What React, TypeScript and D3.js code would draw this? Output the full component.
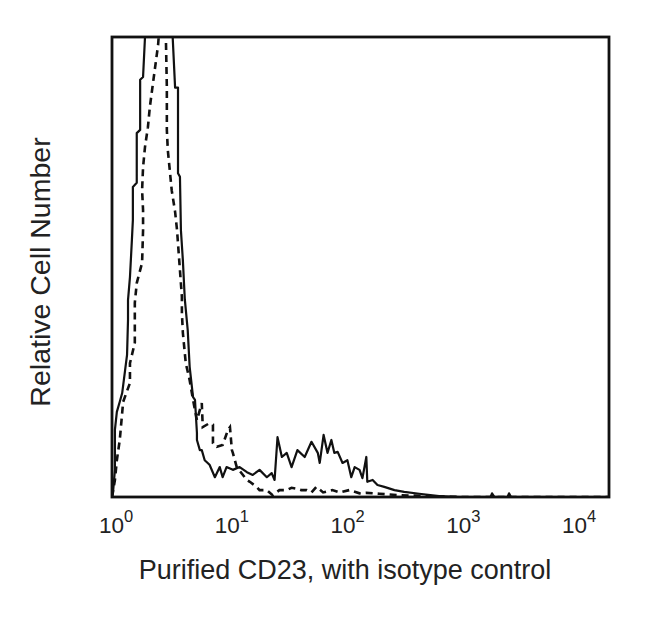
import React from "react";
import * as d3 from "d3";

// Histogram channels (log-amplified, CH_PER_DECADE channels per decade) and relative counts (% of frame height)
const CH_PER_DECADE = 238.5;
const CH_MAX = 1024;

const cd23Channels = [0, 2, 6, 6, 10, 16, 21, 27, 31, 33, 33, 37, 41, 43, 43, 51, 51, 58, 58, 64, 68, 76, 88, 100, 112, 120, 125, 130, 136, 136, 140, 142, 146, 150, 156, 160, 167, 171, 175, 175, 181, 185, 191, 201, 212, 222, 228, 236, 249, 263, 278, 290, 304, 319, 329, 335, 341, 350, 360, 370, 382, 397, 411, 424, 428, 436, 444, 452, 458, 465, 475, 485, 493, 500, 510, 516, 524, 526, 537, 547, 561, 582, 602, 633, 674, 715, 780, 783, 788, 815, 818, 822, 1024];
const cd23Counts = [0, 0.9, 5.9, 14.6, 18.5, 20.7, 22.6, 27.6, 30.9, 38.5, 42.8, 47.8, 55.9, 60.2, 67.4, 68.3, 79.1, 79.8, 90.7, 91.3, 100, 112, 125, 130, 128, 115, 100, 89, 89, 70.4, 69.6, 58, 51.5, 43, 36.3, 28.3, 21.7, 21.1, 13.9, 12.4, 10.2, 10.2, 8, 7, 4.3, 6.5, 4.3, 6.5, 5.9, 6.5, 5.4, 4.8, 5.9, 4.3, 5.2, 3.7, 13, 8.7, 9.6, 6.5, 10.2, 8.7, 12, 9.6, 7.4, 13.5, 9.6, 12.4, 9.6, 9.8, 7.4, 8, 4.3, 6.5, 5.9, 4.1, 8.7, 3.3, 3.7, 2.6, 2.2, 1.5, 1.1, 0.7, 0.2, 0, 0, 0.8, 0, 0, 0.8, 0, 0];

const isoChannels = [0, 6, 10, 16, 23, 37, 37, 47, 47, 51, 62, 64, 64, 62, 64, 68, 74, 78, 84, 95, 99, 103, 107, 111, 113, 113, 113, 115, 119, 123, 130, 134, 140, 144, 144, 146, 152, 160, 167, 175, 185, 187, 200, 208, 208, 216, 228, 239, 243, 247, 249, 257, 278, 284, 298, 304, 319, 331, 345, 360, 370, 380, 390, 401, 411, 421, 435, 454, 470, 489, 510, 524, 551, 592, 654, 715, 1024];
const isoCounts = [0, 3.7, 8, 12.4, 20.7, 24.8, 29.1, 33.5, 42.2, 46.5, 50.9, 58, 62.4, 66.7, 71.7, 76.1, 80.4, 84.8, 89.6, 98.3, 104, 118, 108, 100, 89.1, 84.1, 79.8, 75.4, 71.1, 66.7, 62, 58, 49.3, 43.5, 40, 35.7, 29.1, 25.4, 21.1, 16.7, 20.4, 15.2, 16, 15.7, 11.7, 10.9, 11.3, 14.6, 15.2, 10.2, 9.6, 6.5, 3.7, 3.3, 2.2, 1.5, 1.5, 0.4, 1.5, 1.5, 2, 1.8, 1.5, 1.5, 1, 2.2, 1, 1.5, 1, 1.5, 0.8, 0.9, 0.7, 0.4, 0.2, 0, 0];

const tickExponents = [0, 1, 2, 3, 4];
const xTitle = "Purified CD23, with isotype control";
const yTitle = "Relative Cell Number";

const W = 650;
const H = 622;
const M = { left: 112, right: 609, top: 37, bottom: 497 };

export default function App() {
  const toIntensity = (ch: number) => Math.pow(10, ch / CH_PER_DECADE);
  const x = d3
    .scaleLog()
    .domain([1, toIntensity(CH_MAX)])
    .range([M.left, M.right]);
  const y = d3.scaleLinear().domain([0, 100]).range([M.bottom, M.top]);

  const line = d3
    .line<[number, number]>()
    .x((d) => x(toIntensity(d[0])))
    .y((d) => y(d[1]));

  const cd23: [number, number][] = cd23Channels.map((c, i) => [c, cd23Counts[i]]);
  const iso: [number, number][] = isoChannels.map((c, i) => [c, isoCounts[i]]);

  const font = "'Liberation Sans', Arial, Helvetica, sans-serif";

  return (
    <svg
      width={W}
      height={H}
      style={{ position: "absolute", left: 0, top: 0, background: "#fff" }}
      fontFamily={font}
    >
      <rect x={0} y={0} width={W} height={H} fill="#fff" />
      <defs>
        <clipPath id="plotClip">
          <rect x={M.left} y={M.top} width={M.right - M.left} height={M.bottom - M.top} />
        </clipPath>
      </defs>
      <g clipPath="url(#plotClip)">
        <path d={line(iso) || ""} fill="none" stroke="#111" strokeWidth={2.6} strokeDasharray="7,5" />
        <path d={line(cd23) || ""} fill="none" stroke="#111" strokeWidth={2.2} strokeLinejoin="round" />
      </g>
      <rect
        x={M.left}
        y={M.top}
        width={M.right - M.left}
        height={M.bottom - M.top}
        fill="none"
        stroke="#111"
        strokeWidth={2.8}
      />
      {tickExponents.map((e) => (
        <text key={e} x={x(Math.pow(10, e)) - 13} y={533} fontSize={22.5} fill="#222">
          10
          <tspan dy={-11} fontSize={16.5}>
            {e}
          </tspan>
        </text>
      ))}
      <text x={345} y={579} fontSize={27} textAnchor="middle" fill="#222">
        {xTitle}
      </text>
      <text
        transform="translate(50,272) rotate(-90)"
        fontSize={28.5}
        textAnchor="middle"
        fill="#222"
      >
        {yTitle}
      </text>
    </svg>
  );
}
